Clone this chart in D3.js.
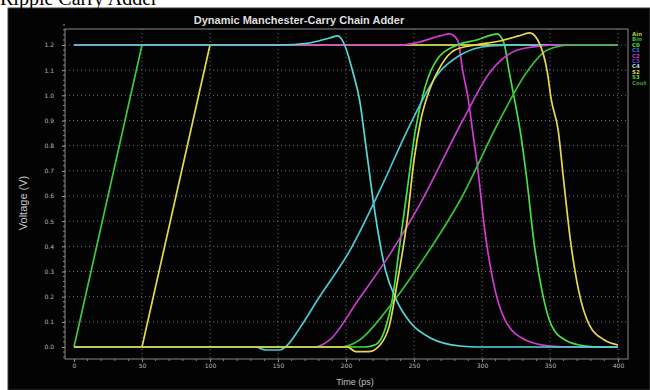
<!DOCTYPE html>
<html>
<head>
<meta charset="utf-8">
<script src="https://cdn.jsdelivr.net/npm/d3@7"></script>
<style>
  html, body { margin: 0; padding: 0; background: #ffffff; }
  svg { display: block; }
</style>
</head>
<body>
<svg id="chart" width="650" height="390"></svg>
<script>
// Time axis (ps) and voltage axis (V) tick values
const timeTicks = [0, 50, 100, 150, 200, 250, 300, 350, 400];
const voltTicks = [0.0, 0.1, 0.2, 0.3, 0.4, 0.5, 0.6, 0.7, 0.8, 0.9, 1.0, 1.1, 1.2];

// Input ramps as [time ps, voltage V]
const inA = [[0, 0], [50, 1.2], [400, 1.2]];
const inB = [[0, 0], [50, 0], [100, 1.2], [400, 1.2]];

// Internal nodes and outputs as [time ps, voltage V]
const carry2Fall = [[0, 1.2], [240, 1.2], [254, 1.212], [269, 1.236], [276, 1.244], [282, 1.22], [286, 1.093],
  [290, 0.981], [293, 0.862], [297, 0.703], [302, 0.465], [308, 0.266], [317, 0.107], [332, 0.028],
  [350, 0.004], [365, 0], [400, 0]];
const sum3 = [[0, 0], [214, 0], [222, 0.01], [229, 0.075], [234, 0.187], [239, 0.385], [245, 0.624],
  [251, 0.861], [258, 1.03], [268, 1.15], [282, 1.2], [296, 1.22], [306, 1.238], [311, 1.244],
  [316, 1.21], [320, 1.093], [324, 0.981], [328, 0.862], [333, 0.664], [338, 0.425], [344, 0.226],
  [351, 0.087], [361, 0.028], [376, 0.004], [387, 0], [400, 0]];
const carry1Fall = [[0, 1.2], [151, 1.2], [173, 1.208], [188, 1.228], [194, 1.236], [199, 1.2], [205, 1.093],
  [210, 0.981], [215, 0.783], [221, 0.544], [229, 0.306], [237, 0.187], [247, 0.099], [262, 0.036],
  [284, 0.004], [298, 0], [400, 0]];
const carry1Rise = [[0, 0], [133, 0], [141, -0.012], [151, -0.012], [157, 0.008], [166, 0.075], [179, 0.187],
  [203, 0.385], [225, 0.624], [247, 0.882], [267, 1.081], [284, 1.16], [306, 1.196], [328, 1.2], [400, 1.2]];
const carry2Rise = [[0, 0], [177, 0], [188, 0.028], [209, 0.187], [232, 0.366], [254, 0.564], [286, 0.902],
  [306, 1.093], [326, 1.18], [343, 1.196], [357, 1.2], [400, 1.2]];
const carry3Rise = [[0, 0], [196, 0], [210, 0.028], [230, 0.147], [254, 0.326], [284, 0.584], [313, 0.902],
  [333, 1.093], [348, 1.18], [365, 1.2], [400, 1.2]];
const sum4 = [[0, 0], [201, 0], [207, -0.018], [217, -0.018], [225, 0.008], [232, 0.087], [238, 0.266],
  [245, 0.504], [250, 0.743], [255, 0.902], [262, 1.03], [270, 1.12], [280, 1.18], [295, 1.2],
  [313, 1.216], [327, 1.236], [335, 1.248], [341, 1.22], [348, 1.093], [351, 0.981], [356, 0.862],
  [360, 0.664], [365, 0.425], [371, 0.226], [379, 0.087], [390, 0.028], [400, 0.008]];

// Waveforms in drawing order, with their trace colours
const traces = [inA, inB, carry2Fall, sum3, carry1Fall, carry1Rise, carry2Rise, carry3Rise, sum4];
const traceColors = ["#3cc83c", "#e2d84a", "#d23ad2", "#46e046", "#56d8d8", "#4cc8d2", "#c93cd0", "#38c038", "#e8d850"];
const traceLinear = [true, true, false, false, false, false, false, false, false];

// Legend entries on the right edge
const legendNames = ["Ain", "Bin", "C0", "C1", "C2", "C3", "C4", "S2", "S3", "Cout"];
const legendColors = ["#b8c040", "#30b830", "#40e040", "#3a70e0", "#d030d0", "#6040c8", "#a8e0e0", "#e0d840", "#50d050", "#3a9a3a"];

const svg = d3.select("#chart");

// Dark display panel
svg.append("rect").attr("x", 8).attr("y", 8).attr("width", 642).attr("height", 382)
  .attr("fill", "#030303").attr("stroke", "#3a3a3a").attr("stroke-width", 1);

// Page heading above the panel
svg.append("text").attr("x", 0).attr("y", 5)
  .attr("font-family", "Liberation Serif, Times New Roman, serif").attr("font-size", 20)
  .attr("fill", "#000").text("Ripple Carry Adder");

const x = d3.scaleLinear().domain([0, 400]).range([74, 618]);
const y = d3.scaleLinear().domain([0, 1.2]).range([347, 45]);

const frame = { left: 65, right: 628, top: 29, bottom: 359 };

// Grid
const grid = svg.append("g");
grid.selectAll(".vg").data(timeTicks.slice(1)).enter().append("line")
  .attr("x1", d => x(d)).attr("x2", d => x(d)).attr("y1", frame.top).attr("y2", frame.bottom)
  .attr("stroke", "#707070").attr("stroke-width", 1).attr("stroke-dasharray", "1,3");
grid.selectAll(".hg").data(voltTicks.slice(1)).enter().append("line")
  .attr("x1", frame.left).attr("x2", frame.right).attr("y1", d => y(d)).attr("y2", d => y(d))
  .attr("stroke", "#707070").attr("stroke-width", 1).attr("stroke-dasharray", "1,3");

// Frame
svg.append("rect").attr("x", frame.left).attr("y", frame.top)
  .attr("width", frame.right - frame.left).attr("height", frame.bottom - frame.top)
  .attr("fill", "none").attr("stroke", "#8a8a8a").attr("stroke-width", 1);

// Axes
const xAxis = d3.axisBottom(x).tickValues(timeTicks).tickFormat(d3.format("d")).tickSize(3).tickPadding(2);
const gx = svg.append("g").attr("transform", `translate(0,${frame.bottom})`).call(xAxis);
gx.select(".domain").remove();
gx.selectAll("line").attr("stroke", "#9a8aa0");
gx.selectAll("text").attr("fill", "#b8b8b8").attr("font-size", 6).attr("font-family", "DejaVu Sans, sans-serif");
const xMinor = d3.range(0, 400.01, 10).filter(v => v % 50 !== 0);
svg.append("g").selectAll("line").data(xMinor).enter().append("line")
  .attr("x1", d => x(d)).attr("x2", d => x(d)).attr("y1", frame.bottom).attr("y2", frame.bottom + 2)
  .attr("stroke", "#8a7a90");

const yAxis = d3.axisLeft(y).tickValues(voltTicks).tickFormat(d3.format(".1f")).tickSize(3).tickPadding(8);
const gy = svg.append("g").attr("transform", `translate(${frame.left},0)`).call(yAxis);
gy.select(".domain").remove();
gy.selectAll("line").attr("stroke", "#a0a0a0");
gy.selectAll("text").attr("fill", "#b8b8b8").attr("font-size", 6).attr("font-family", "DejaVu Sans, sans-serif");
const yMinor = d3.range(-0.04, 1.281, 0.02).filter(v => Math.abs(v * 10 - Math.round(v * 10)) > 1e-6);
svg.append("g").selectAll("line").data(yMinor).enter().append("line")
  .attr("x1", frame.left - 2).attr("x2", frame.left).attr("y1", d => y(d)).attr("y2", d => y(d))
  .attr("stroke", "#8a8a8a");

// Waveforms
const smooth = d3.line().x(d => x(d[0])).y(d => y(d[1])).curve(d3.curveMonotoneX);
const straight = d3.line().x(d => x(d[0])).y(d => y(d[1])).curve(d3.curveLinear);
svg.append("g").selectAll("path").data(traces).enter().append("path")
  .attr("d", (d, i) => (traceLinear[i] ? straight : smooth)(d)).attr("fill", "none")
  .attr("stroke", (d, i) => traceColors[i]).attr("stroke-width", 1.7).attr("stroke-linejoin", "round");

// Titles
svg.append("text").attr("x", 299).attr("y", 24).attr("text-anchor", "middle")
  .attr("font-family", "Liberation Sans, Arial, sans-serif").attr("font-weight", "bold").attr("font-size", 11)
  .attr("fill", "#dedede").text("Dynamic Manchester-Carry Chain Adder");
svg.append("text").attr("transform", "translate(27,203) rotate(-90)").attr("text-anchor", "middle")
  .attr("font-family", "Liberation Sans, Arial, sans-serif").attr("font-size", 11)
  .attr("fill", "#c8c8c8").text("Voltage (V)");
svg.append("text").attr("x", 355).attr("y", 385).attr("text-anchor", "middle")
  .attr("font-family", "Liberation Sans, Arial, sans-serif").attr("font-size", 9)
  .attr("fill", "#c0c0c0").text("Time (ps)");

// Legend
svg.append("g").selectAll("text").data(legendNames).enter().append("text")
  .attr("x", 632).attr("y", (d, i) => 36 + i * 5.4)
  .attr("font-family", "DejaVu Sans, sans-serif").attr("font-size", 5.5).attr("font-weight", "bold")
  .attr("fill", (d, i) => legendColors[i]).text(d => d);
</script>
</body>
</html>
